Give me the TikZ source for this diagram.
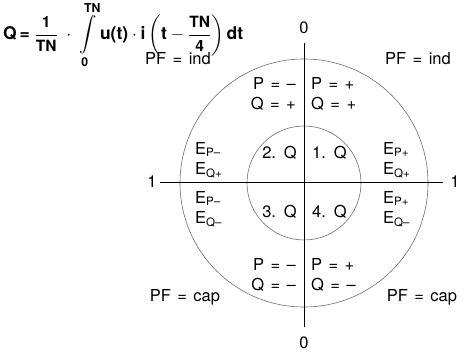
\documentclass[tikz,border=0pt]{standalone}
\usepackage{amsmath}
\usepackage{fontspec}
\setmainfont{TeX Gyre Heros}[WordSpace=1.4]
\usetikzlibrary{positioning}
\definecolor{ringgray}{RGB}{110, 110, 110}
\newcommand{\bt}[1]{\textbf{#1}}
\newcommand{\fr}[2]{\dfrac{\text{\fontsize{15.5}{16}\selectfont\bfseries #1}}{\text{\fontsize{15.5}{16}\selectfont\bfseries #2}}}

\begin{document}
\begin{tikzpicture}[
  x=1pt, y=-1pt,
  lbl/.style={font=\fontsize{16.5}{20}\selectfont, inner sep=0pt},
  ring/.style={draw=ringgray, line width=0.6pt},
  axis/.style={draw=black, line width=1pt}
]
  \useasboundingbox (0,0) rectangle (465,352);

  % Formula
  \node[font=\fontsize{17.5}{20}\selectfont, inner sep=0pt, anchor=base west] (formula) at (3,39.5) {$\displaystyle\bt{Q}\,\bt{=}\;\fr{1}{TN}\;\cdot\;\int\limits_{\bt{0}}^{\bt{TN}}\bt{u(t)}\cdot\bt{i}\left(\bt{t}-\fr{TN}{4}\right)\bt{dt}$};

  % Circles
  \coordinate (c) at (304,183);
  \draw[ring] (c) circle[radius=124];
  \draw[ring] (c) circle[radius=57];

  % Axes
  \coordinate (ytop) at (304,43);
  \coordinate (ybot) at (304,327);
  \coordinate (xleft) at (160,183);
  \coordinate (xright) at (443,183);
  \draw[axis] (ytop) -- (ybot);
  \draw[axis] (xleft) -- (xright);

  % Axis labels
  \node[lbl] (zerotop) at (304,28) {0};
  \node[lbl] (zerobot) at (304,343) {0};
  \node[lbl] (oneleft) at (152,182) {1};
  \node[lbl] (oneright) at (455,182) {1};

  % Power factor
  \node[lbl] (pfil) at (178,59) {PF = ind};
  \node[lbl] (pfir) at (418,59) {PF = ind};
  \node[lbl] (pfcl) at (185,297) {PF = cap};
  \node[lbl] (pfcr) at (422,297) {PF = cap};

  % Signs of P and Q
  \node[lbl, anchor=east, align=right] (sign2) at (296,94) {P = –\\Q = +};
  \node[lbl, anchor=west, align=left]  (sign1) at (311,94) {P = +\\Q = +};
  \node[lbl, anchor=east, align=right] (sign3) at (296,275) {P = –\\Q = –};
  \node[lbl, anchor=west, align=left]  (sign4) at (311,275) {P = +\\Q = –};

  % Quadrants
  \node[lbl, anchor=east] (q2) at (297,153) {2. Q};
  \node[lbl, anchor=west] (q1) at (312,153) {1. Q};
  \node[lbl, anchor=east] (q3) at (297,212) {3. Q};
  \node[lbl, anchor=west] (q4) at (312,212) {4. Q};

  % Energy registers
  \node[lbl, anchor=west, align=left] (e2) at (195,160) {E\textsubscript{P–}\\E\textsubscript{Q+}};
  \node[lbl, anchor=west, align=left] (e1) at (383,160) {E\textsubscript{P+}\\E\textsubscript{Q+}};
  \node[lbl, anchor=west, align=left] (e3) at (195,209) {E\textsubscript{P–}\\E\textsubscript{Q–}};
  \node[lbl, anchor=west, align=left] (e4) at (383,209) {E\textsubscript{P+}\\E\textsubscript{Q–}};
\end{tikzpicture}
\end{document}
